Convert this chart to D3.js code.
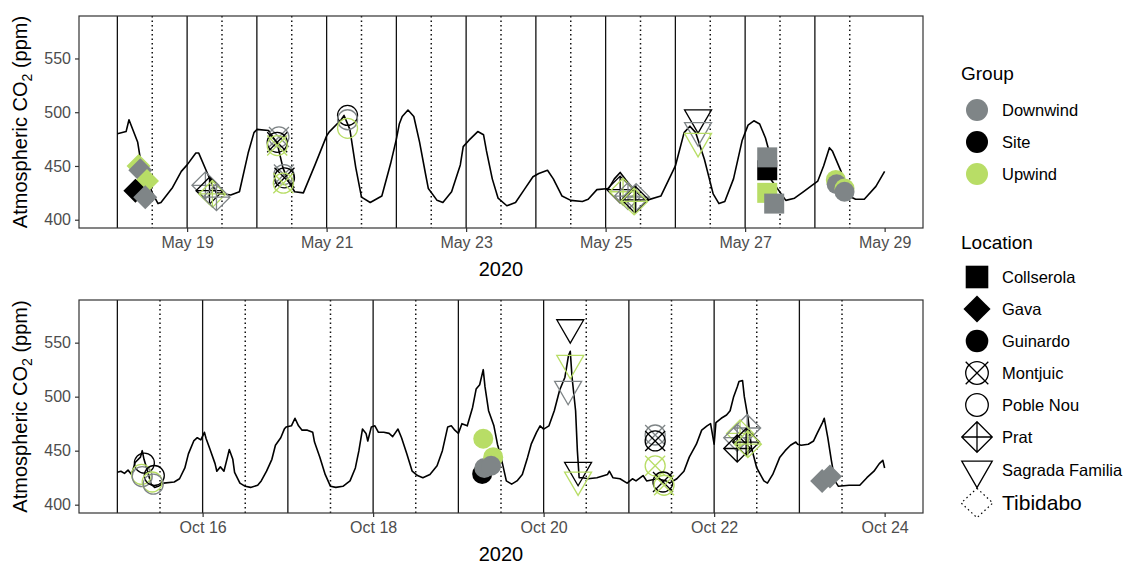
<!DOCTYPE html>
<html>
<head>
<meta charset="utf-8">
<script src="https://cdn.jsdelivr.net/npm/d3@7"></script>
<style>
  body { margin: 0; background: #fff; }
  text { font-family: "Liberation Sans", Arial, sans-serif; }
</style>
</head>
<body>
<div id="wrapper"></div>
<script>
// 1. Data (hours since first midnight, ppm)

const mayLine = [[0,480],[3,482],[4,493],[7,472],[8,455],[10,440],[12,425],[14,415],[15,416],[19,430],
  [22,445],[24,451],[27,462],[28,462],[31,443],[34,425],[39,423],[42,426],[45,462],[47,481],
  [48,484],[52,483],[55,471],[57,448],[59,435],[61,426],[64,425],[68,451],[72,478],[73,482],
  [77,493],[78,497],[80,484],[82,449],[84,421],[87,416],[91,422],[94,452],[96,475],[97,489],
  [98,496],[100,502],[102,496],[104,472],[106,443],[107,429],[110,418],[112,416],[115,426],[118,451],
  [119,468],[121,474],[124,482],[126,479],[127,464],[129,438],[131,420],[134,413],[137,416],[140,428],
  [143,440],[145,443],[148,446],[150,438],[153,422],[156,418],[160,417],[162,419],[165,428],[169,429],
  [171,438],[173,444],[175,437],[178,427],[182,418],[187,422],[192,450],[195,481],[197,487],[199,481],
  [202,456],[205,424],[207,415],[209,417],[212,438],[215,474],[217,488],[219,492],[221,489],[223,476],
  [224,466],[225,437],[230,418],[233,420],[236,426],[239,432],[241,436],[243,450],[245,467],[246,464],
  [249,445],[251,423],[254,419],[257,419],[261,431],[264,445]]

const octLine = [[0,430],[1,431],[2,429],[3,432],[4,428],[5,439],[6.5,444],[7,450],[7.5,442],[8.5,431],
  [9.5,419],[10.5,416],[11.5,417],[13,420],[16,421],[17.5,424],[19,434],[20,447],[21.5,459],[22.5,462],
  [23.5,460],[24.5,467],[25,461],[26,452],[27.5,438],[28,431],[29,435],[30,431],[31,444],[31.5,451],
  [32.5,442],[33,430],[34.5,420],[36,417],[37.5,416],[39.5,418],[40.5,422],[42,431],[43.5,442],[44.5,455],
  [46,462],[47,470],[47.5,472],[49,473],[50,480],[51,473],[52,469],[53.5,469],[55,467],[55.5,458],
  [57,444],[58.5,428],[60,417],[61.5,416],[63.5,417],[65.5,422],[67,434],[68,450],[69,470],[70,466],
  [70.5,459],[71.5,472],[72.5,473],[73.5,467],[75,467],[76.5,466],[77.5,463],[79,470],[80,462],[81.5,447],
  [83,431],[84.5,427],[86,425],[88,428],[90,436],[91.5,450],[93,472],[94,473],[95,469],[96,466],
  [97,475],[98.5,473],[100,490],[101,507],[102,511],[103,525],[103.5,509],[104.5,487],[106,473],[107,456],
  [108,444],[109.5,422],[111,419],[112.5,422],[114,428],[115.5,444],[116.5,456],[118,467],[119,473],[120,470],
  [121.5,473],[123,487],[124.5,506],[126,518],[127,538],[127.5,542],[128,518],[129,487],[129.5,450],[130,425],
  [131,425],[132.5,424],[135,425],[138,428],[138.5,431],[139.5,425],[141.5,424],[143.5,420],[145,424],[146,422],
  [148,427],[149,422],[152,424],[154.5,422],[155.5,420],[157.5,424],[159.5,431],[161,444],[163,456],[164.5,469],
  [166,473],[167,475],[168,456],[168.5,476],[170,480],[171.5,483],[172.5,487],[173.5,500],[174.5,509],[175,514],
  [176,515],[176.5,500],[177.5,481],[178.5,453],[180,434],[182,422],[183,420],[184.5,428],[186.5,444],[188,450],
  [189.5,455],[191,458],[191.5,456],[192.5,455],[194.5,456],[196,459],[197,466],[198.5,476],[199,480],[200,462],
  [201,441],[202,422],[203,417],[206,418],[209,418],[211,425],[213,431],[214.5,438],[215.5,441],[216,434]]

// samples: [location, group, hour, ppm]
const mayMarkers = [
  ["Gava","Upwind",7.3,450],["Gava","Downwind",7.9,446],["Gava","Upwind",10.2,436],
  ["Gava","Site",6.2,427],["Gava","Downwind",9.6,421],
  ["Prat","Downwind",30.3,432],["Prat","Site",31.7,427],["Prat","Upwind",32.7,424],["Prat","Downwind",34.1,421],
  ["Montjuic","Downwind",55.6,477],["Montjuic","Site",55,472],["Montjuic","Upwind",55,469],
  ["Montjuic","Downwind",57.3,442],["Montjuic","Site",57.5,439],["Montjuic","Upwind",57.1,434],
  ["Poble Nou","Site",79.2,497],["Poble Nou","Downwind",79.2,493],["Poble Nou","Upwind",79.2,485],
  ["Prat","Site",173,428],["Prat","Upwind",174,426],["Prat","Downwind",175.7,422],
  ["Prat","Downwind",178.5,421],["Prat","Site",178.2,418.5],["Prat","Upwind",177.8,417],
  ["Sagrada Familia","Site",199.8,495],["Sagrada Familia","Downwind",199.8,483],["Sagrada Familia","Upwind",199.8,473],
  ["Collserola","Site",223.6,446],["Collserola","Downwind",223.6,458],["Collserola","Upwind",223.6,425],
  ["Collserola","Downwind",226,415],
  ["Guinardo","Upwind",247.2,437],["Guinardo","Downwind",247.5,433],["Guinardo","Upwind",250.2,429],
  ["Guinardo","Downwind",250.2,426]
]

const octMarkers = [
  ["Poble Nou","Site",7.6,438.5],["Poble Nou","Upwind",6.8,428],["Poble Nou","Downwind",7,426],
  ["Poble Nou","Site",10.4,427],["Poble Nou","Upwind",9.8,421],["Poble Nou","Downwind",10.1,419],
  ["Guinardo","Upwind",103,461],["Guinardo","Site",102.7,428.5],["Guinardo","Downwind",103.3,434],
  ["Guinardo","Upwind",105.8,444],["Guinardo","Downwind",105.2,436],
  ["Sagrada Familia","Site",127.5,564],["Sagrada Familia","Upwind",127.5,531],["Sagrada Familia","Downwind",126.9,507],
  ["Sagrada Familia","Site",129.7,432],["Sagrada Familia","Upwind",129.7,423],
  ["Montjuic","Downwind",151.4,464.5],["Montjuic","Site",151.4,459],["Montjuic","Upwind",151.4,436],
  ["Montjuic","Site",153.6,421],["Montjuic","Upwind",153.9,418],
  ["Prat","Downwind",177.3,471],["Prat","Upwind",175.3,466],["Prat","Downwind",174.5,462],
  ["Prat","Site",174.5,452],["Prat","Site",177,458],["Prat","Upwind",177.5,456],
  ["Gava","Downwind",198.4,422],["Gava","Downwind",200.6,426]
]

const yTicks = [400, 450, 500, 550]
const groups = ["Downwind", "Site", "Upwind"]
const groupColors = ["#7f8587", "#000000", "#b8dd66"]
const locations = ["Collserola", "Gava", "Guinardo", "Montjuic", "Poble Nou", "Prat", "Sagrada Familia", "Tibidabo"]

// 2. Dimensions

const dimensions = { width: 1132, height: 564, left: 79, right: 923 }

const panels = [
  { start: Date.UTC(2020, 4, 18), days: 11, top: 16, bottom: 228, line: mayLine, markers: mayMarkers,
    ticks: [1, 3, 5, 7, 9, 11] },
  { start: Date.UTC(2020, 9, 15), days: 9, top: 300, bottom: 513, line: octLine, markers: octMarkers,
    ticks: [1, 3, 5, 7, 9] }
]

// 3. Draw canvas

const wrapper = d3.select("#wrapper")
  .append("svg")
  .attr("width", dimensions.width)
  .attr("height", dimensions.height)

const colorScale = d3.scaleOrdinal().domain(groups).range(groupColors)

const HOUR = 3600 * 1000

function drawShape(g, loc, color, k) {
  const s = k
  if (loc == "Collserola") {
    g.append("rect").attr("x", -10 * s).attr("y", -10 * s).attr("width", 20 * s).attr("height", 20 * s).attr("fill", color)
  } else if (loc == "Gava") {
    const h = 12 * s
    g.append("path").attr("d", `M0,${-h}L${h},0L0,${h}L${-h},0Z`).attr("fill", color)
  } else if (loc == "Guinardo") {
    g.append("circle").attr("r", 10 * s).attr("fill", color)
  } else if (loc == "Montjuic") {
    const r = 10 * s
    g.append("circle").attr("r", r).attr("fill", "none").attr("stroke", color).attr("stroke-width", 1.3)
    g.append("path").attr("d", `M${-r},${-r}L${r},${r}M${r},${-r}L${-r},${r}`).attr("stroke", color).attr("stroke-width", 1.3)
  } else if (loc == "Poble Nou") {
    g.append("circle").attr("r", 10 * s).attr("fill", "none").attr("stroke", color).attr("stroke-width", 1.3)
  } else if (loc == "Prat") {
    const h = 13.5 * s
    g.append("path").attr("d", `M0,${-h}L${h},0L0,${h}L${-h},0ZM0,${-h}L0,${h}M${-h},0L${h},0`)
      .attr("fill", "none").attr("stroke", color).attr("stroke-width", 1.3)
  } else if (loc == "Sagrada Familia") {
    const w = 13.5 * s, hh = 7.8 * s
    g.append("path").attr("d", `M${-w},${-hh}L${w},${-hh}L0,${2 * hh}Z`)
      .attr("fill", "none").attr("stroke", color).attr("stroke-width", 1.3)
  } else {
    const w = 14 * s, h = 13 * s
    g.append("path").attr("d", `M0,${-h}L${w},0L0,${h}L${-w},0Z`)
      .attr("fill", "none").attr("stroke", color).attr("stroke-width", 1.2).attr("stroke-dasharray", "1.5,3")
  }
}

panels.forEach(p => {
  // 4. Scales
  const end = p.start + p.days * 24 * HOUR
  const pad = (end - p.start) * 0.05
  const x = d3.scaleUtc()
    .domain([new Date(p.start - pad), new Date(end + pad)])
    .range([dimensions.left, dimensions.right])
  const y = d3.scaleLinear()
    .domain([392.3, 589.5])
    .range([p.bottom, p.top])
  const hx = h => x(new Date(p.start + h * HOUR))

  const bounds = wrapper.append("g")

  // day lines
  const days = d3.range(0, p.days)
  bounds.selectAll(null).data(days).enter().append("line")
    .attr("x1", d => hx(d * 24)).attr("x2", d => hx(d * 24))
    .attr("y1", p.top).attr("y2", p.bottom)
    .attr("stroke", "#111").attr("stroke-width", 1.3)
  bounds.selectAll(null).data(days).enter().append("line")
    .attr("x1", d => hx(d * 24 + 12)).attr("x2", d => hx(d * 24 + 12))
    .attr("y1", p.top).attr("y2", p.bottom)
    .attr("stroke", "#111").attr("stroke-width", 1.5).attr("stroke-dasharray", "1.5,3")

  // 5. Draw data
  const lineGen = d3.line()
    .x(d => hx(d[0]))
    .y(d => y(d[1]))
  bounds.append("path")
    .attr("d", lineGen(p.line))
    .attr("fill", "none")
    .attr("stroke", "#000")
    .attr("stroke-width", 1.6)
    .attr("stroke-linejoin", "round")

  bounds.selectAll(null).data(p.markers).enter().append("g")
    .attr("transform", d => `translate(${hx(d[2])}, ${y(d[3])})`)
    .each(function (d) { drawShape(d3.select(this), d[0], colorScale(d[1]), 1) })

  // 6. Peripherals
  bounds.append("rect")
    .attr("x", dimensions.left).attr("y", p.top)
    .attr("width", dimensions.right - dimensions.left).attr("height", p.bottom - p.top)
    .attr("fill", "none").attr("stroke", "#333").attr("stroke-width", 1.2)

  const xAxis = d3.axisBottom(x)
    .tickValues(p.ticks.map(d => new Date(p.start + d * 24 * HOUR)))
    .tickFormat(d3.utcFormat("%b %d"))
    .tickSize(4).tickPadding(5)
  const xg = bounds.append("g").attr("transform", `translate(0, ${p.bottom})`).call(xAxis)
  xg.select(".domain").remove()
  xg.selectAll("line").attr("stroke", "#333").attr("stroke-width", 1.2)
  xg.selectAll("text").attr("font-size", 16).attr("fill", "#4d4d4d").attr("font-family", null)

  const yAxis = d3.axisLeft(y).tickValues(yTicks).tickSize(4).tickPadding(4)
  const yg = bounds.append("g").attr("transform", `translate(${dimensions.left}, 0)`).call(yAxis)
  yg.select(".domain").remove()
  yg.selectAll("line").attr("stroke", "#333").attr("stroke-width", 1.2)
  yg.selectAll("text").attr("font-size", 16).attr("fill", "#4d4d4d").attr("font-family", null)

  bounds.append("text")
    .attr("x", (dimensions.left + dimensions.right) / 2)
    .attr("y", p.bottom + 48)
    .attr("text-anchor", "middle")
    .attr("font-size", 20)
    .text("2020")

  const yt = bounds.append("text")
    .attr("transform", `translate(27, ${(p.top + p.bottom) / 2}) rotate(-90)`)
    .attr("text-anchor", "middle")
    .attr("font-size", 20)
  yt.append("tspan").text("Atmospheric CO")
  yt.append("tspan").attr("font-size", 14).attr("dy", 5).text("2")
  yt.append("tspan").attr("dy", -5).text(" (ppm)")
})

// legend
const legend = wrapper.append("g")
legend.append("text").attr("x", 961).attr("y", 73).attr("dy", "0.35em").attr("font-size", 19).text("Group")
const groupKeys = legend.selectAll(null).data(groups).enter().append("g")
  .attr("transform", (d, i) => `translate(977, ${110 + i * 32})`)
groupKeys.append("circle").attr("r", 11).attr("fill", d => colorScale(d))
groupKeys.append("text").attr("x", 25).attr("dy", "0.35em").attr("font-size", 16.5).text(d => d)

legend.append("text").attr("x", 961).attr("y", 242).attr("dy", "0.35em").attr("font-size", 19).text("Location")
const locY = [277, 309, 341, 373, 405, 437, 470, 503]
const locKeys = legend.selectAll(null).data(locations).enter().append("g")
  .attr("transform", (d, i) => `translate(977, ${locY[i]})`)
locKeys.each(function (d) { drawShape(d3.select(this), d, "#000", 1.13) })
locKeys.append("text").attr("x", 25).attr("dy", "0.35em")
  .attr("font-size", d => d == "Tibidabo" ? 21 : 16.5)
  .text(d => d)
</script>
</body>
</html>
